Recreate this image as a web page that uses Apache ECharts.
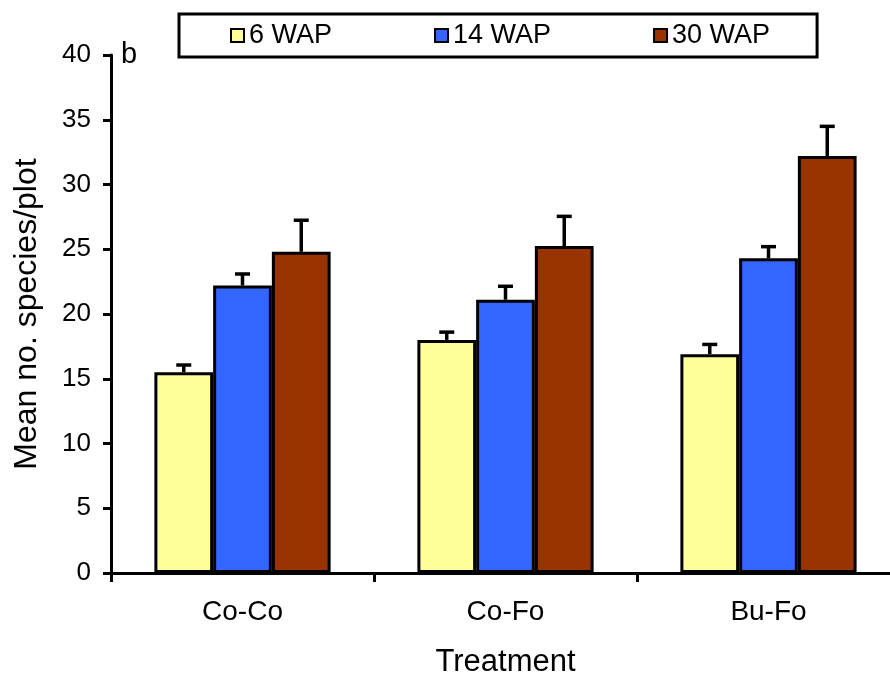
<!DOCTYPE html>
<html>
<head>
<meta charset="utf-8">
<script src="https://cdn.jsdelivr.net/npm/echarts@6/dist/echarts.min.js"></script>
<style>
html,body{margin:0;padding:0;background:#fff;}
#chart{width:890px;height:675px;}
</style>
</head>
<body>
<div id="chart"></div>
<script>
var categories = ['Co-Co', 'Co-Fo', 'Bu-Fo'];
var seriesNames = ['6 WAP', '14 WAP', '30 WAP'];
var wap6 = [15.5, 18.0, 16.9];
var wap14 = [22.2, 21.1, 24.3];
var wap30 = [24.8, 25.25, 32.2];
var err6 = [0.56, 0.6, 0.75];
var err14 = [0.89, 1.04, 0.9];
var err30 = [2.44, 2.29, 2.29];
var yTicks = [0, 5, 10, 15, 20, 25, 30, 35, 40];

var colors = ['#FFFF99', '#3366FF', '#993300'];
var values = [wap6, wap14, wap30];
var errs = [err6, err14, err30];
var FONT = '"Liberation Sans", Arial, sans-serif';
var GAP = 0.33;

var chart = echarts.init(document.getElementById('chart'));

var series = [];
seriesNames.forEach(function (name, i) {
  series.push({
    name: name,
    type: 'bar',
    data: values[i],
    barGap: '0%',
    barCategoryGap: (GAP * 100) + '%',
    itemStyle: { color: colors[i], borderColor: '#000', borderWidth: 3 },
    emphasis: { disabled: true },
    z: 2
  });
});
seriesNames.forEach(function (name, i) {
  var d = values[i].map(function (v, k) { return [k, v, v + errs[i][k]]; });
  series.push({
    type: 'custom',
    data: d,
    z: 5,
    silent: true,
    renderItem: function (params, api) {
      var k = api.value(0);
      var band = api.size([1, 0])[0];
      var bw = band * (1 - GAP) / 3;
      var c = api.coord([k, api.value(1)]);
      var t = api.coord([k, api.value(2)]);
      var x = c[0] + (i - 1) * bw;
      var half = 7.5;
      return {
        type: 'group',
        children: [
          { type: 'line', shape: { x1: x, y1: c[1], x2: x, y2: t[1] }, style: { stroke: '#000', lineWidth: 3.5 } },
          { type: 'line', shape: { x1: x - half, y1: t[1], x2: x + half, y2: t[1] }, style: { stroke: '#000', lineWidth: 3.5 } }
        ]
      };
    }
  });
});

chart.setOption({
  animation: false,
  backgroundColor: '#fff',
  textStyle: { fontFamily: FONT },
  grid: { left: 111, top: 55, width: 789, bottom: 102, containLabel: false, outerBoundsMode: 'none' },
  legend: {
    data: seriesNames,
    left: 179,
    top: 14,
    orient: 'horizontal',
    itemGap: 102,
    itemWidth: 13,
    itemHeight: 13,
    padding: [8, 47, 8, 51],
    borderColor: '#000',
    borderWidth: 3,
    backgroundColor: '#fff',
    icon: 'rect',
    itemStyle: { borderColor: '#000', borderWidth: 2 },
    textStyle: { fontSize: 27, color: '#000', fontFamily: FONT },
    selectedMode: false
  },
  xAxis: {
    type: 'category',
    data: categories,
    name: 'Treatment',
    nameLocation: 'middle',
    nameGap: 74,
    nameTextStyle: { fontSize: 31, color: '#000', fontFamily: FONT },
    axisLine: { lineStyle: { color: '#000', width: 3 } },
    axisTick: { show: true, length: 9, lineStyle: { color: '#000', width: 3 }, alignWithLabel: false },
    axisLabel: { fontSize: 28, color: '#000', margin: 25, fontFamily: FONT }
  },
  yAxis: {
    type: 'value',
    min: yTicks[0],
    max: yTicks[yTicks.length - 1],
    interval: 5,
    name: 'Mean no. species/plot',
    nameLocation: 'middle',
    nameGap: 68,
    nameTextStyle: { fontSize: 32, color: '#000', fontFamily: FONT },
    axisLine: { show: true, lineStyle: { color: '#000', width: 3 } },
    axisTick: { show: true, length: 8, lineStyle: { color: '#000', width: 3 } },
    splitLine: { show: false },
    axisLabel: { fontSize: 26, color: '#000', margin: 20, fontFamily: FONT }
  },
  graphic: [
    { type: 'text', left: 121, top: 40, style: { text: 'b', fontSize: 29, fill: '#000', fontFamily: FONT } }
  ],
  series: series
});
</script>
</body>
</html>
